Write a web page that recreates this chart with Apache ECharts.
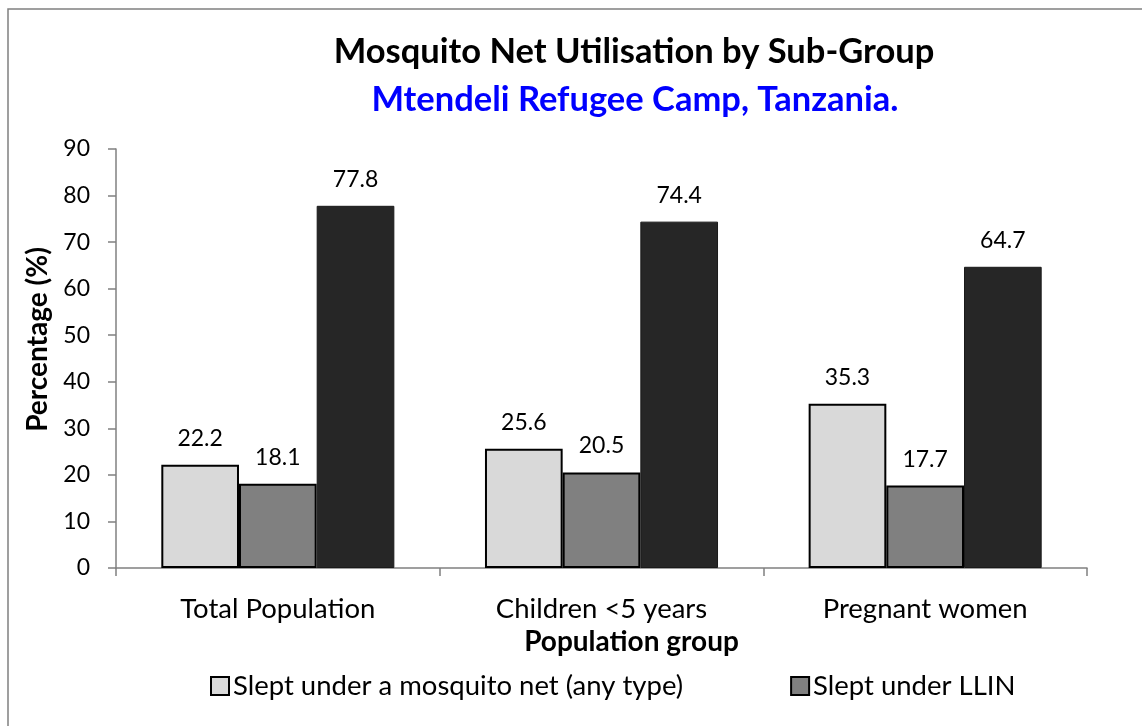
<!DOCTYPE html>
<html><head><meta charset="utf-8">
<script src="https://cdn.jsdelivr.net/npm/echarts@6/dist/echarts.min.js"></script>
<style>html,body{margin:0;padding:0;background:#fff}#c{width:1142px;height:726px}</style>
</head><body><div id="c"></div>
<script>
const categories = ['Total Population', 'Children <5 years', 'Pregnant women'];
const sleptAnyNet = [22.2, 25.6, 35.3];
const sleptLLIN = [18.1, 20.5, 17.7];
const llinAmongNetUsers = [77.8, 74.4, 64.7];
const seriesNames = ['Slept under a mosquito net (any type)', 'Slept under LLIN', 'LLIN among net users'];
const yTicks = [0, 90, 10];

const FONT = 'Lato, "Noto Sans", sans-serif';
const NUM = 23;   // numeric labels
const TXT = 27.5; // word labels
const chart = echarts.init(document.getElementById('c'));
const lbl = {show: true, position: 'top', distance: 15, color: '#000', fontSize: NUM, fontFamily: FONT};
chart.setOption({
  animation: false,
  textStyle: {fontFamily: FONT},
  graphic: [{type: 'rect', shape: {x: 8, y: 9, width: 1300, height: 900}, style: {fill: 'none', stroke: '#808080', lineWidth: 1.5}}],
  title: [
    {text: 'Mosquito Net Utilisation by Sub-Group', left: 629, top: 29, textAlign: 'center',
     textStyle: {fontSize: 34.5, fontWeight: 'bold', color: '#000', fontFamily: FONT}},
    {text: 'Mtendeli Refugee Camp, Tanzania.', left: 630, top: 77, textAlign: 'center',
     textStyle: {fontSize: 34.5, fontWeight: 'bold', color: '#0000ff', fontFamily: FONT}}
  ],
  legend: {
    data: [seriesNames[0], seriesNames[1]], top: 667, left: 205, itemGap: 107,
    itemWidth: 18, itemHeight: 18, icon: 'rect',
    itemStyle: {borderColor: '#000', borderWidth: 2},
    textStyle: {fontSize: TXT, color: '#000', fontFamily: FONT, padding: [0, 0, 0, -1]}
  },
  grid: {left: 116, right: 55, top: 149, bottom: 158, containLabel: false},
  xAxis: {
    type: 'category', data: categories,
    name: 'Population group', nameLocation: 'middle', nameGap: 57,
    nameTextStyle: {fontSize: 28, fontWeight: 'bold', color: '#000', fontFamily: FONT, padding: [0, 0, 0, 60]},
    axisLine: {lineStyle: {color: '#808080', width: 1.5}},
    axisTick: {show: true, length: 8, lineStyle: {color: '#808080', width: 1.5}},
    axisLabel: {fontSize: TXT, color: '#000', margin: 27, fontFamily: FONT}
  },
  yAxis: {
    type: 'value', min: yTicks[0], max: yTicks[1], interval: yTicks[2],
    name: 'Percentage (%)', nameLocation: 'middle', nameGap: 62, nameRotate: 90,
    nameTextStyle: {fontSize: 28, fontWeight: 'bold', color: '#000', fontFamily: FONT, padding: [0, 0, 0, 38]},
    axisLine: {show: true, lineStyle: {color: '#808080', width: 1.5}},
    axisTick: {show: true, length: 8, lineStyle: {color: '#808080', width: 1.5}},
    axisLabel: {fontSize: NUM, color: '#000', margin: 26, fontFamily: FONT},
    splitLine: {show: false}
  },
  series: [
    {name: seriesNames[0], type: 'bar', data: sleptAnyNet, barGap: '0%', barCategoryGap: '28%',
     itemStyle: {color: '#d9d9d9', borderColor: '#000', borderWidth: 2}, label: lbl},
    {name: seriesNames[1], type: 'bar', data: sleptLLIN, barGap: '0%', barCategoryGap: '28%',
     itemStyle: {color: '#808080', borderColor: '#000', borderWidth: 2}, label: lbl},
    {name: seriesNames[2], type: 'bar', data: llinAmongNetUsers, barGap: '0%', barCategoryGap: '28%',
     itemStyle: {color: '#262626', borderColor: '#1a1a1a', borderWidth: 1}, label: lbl}
  ]
});
</script></body></html>
